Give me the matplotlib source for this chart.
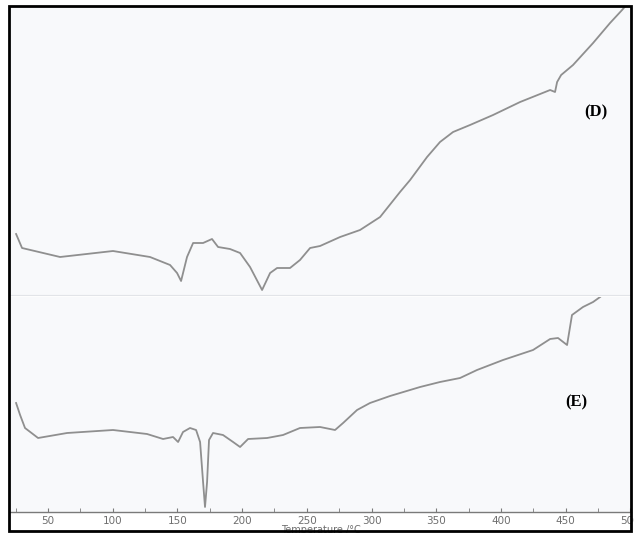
import numpy as np
import matplotlib.pyplot as plt
from matplotlib.patches import Rectangle
from matplotlib.ticker import MultipleLocator

# DSC thermograms, heat flow in arbitrary units (endo down)
temp_d = [25.3, 29.9, 59.3, 100.2, 128.8, 144.3, 149.7, 152.8, 157.4, 162.1,
          169.8, 176.7, 181.4, 190.6, 198.4, 206.1, 215.4, 221.6, 227.0, 237.0,
          244.7, 252.5, 260.2, 275.7, 291.1, 306.6, 322.0, 329.8, 342.9, 352.9,
          363.0, 376.1, 393.9, 414.8, 438.0, 441.8, 443.4, 446.5, 455.7, 471.2,
          484.3, 493.6, 498.2]
flow_d = [61, 47, 38, 44, 38, 30, 22, 14, 38, 52,
          52, 56, 48, 46, 42, 28, 5, 22, 27, 27,
          35, 47, 49, 58, 65, 78, 103, 115, 138, 153,
          163, 170, 180, 193, 205, 203, 213, 220, 230, 252,
          272, 285, 292]

temp_e = [25.3, 28.4, 32.2, 42.3, 64.7, 100.2, 126.5, 138.9, 146.6, 150.5,
          154.3, 159.7, 164.4, 167.5, 169.8, 171.3, 172.9, 174.4, 177.5, 185.2,
          193.0, 198.4, 204.6, 219.3, 231.6, 244.7, 260.2, 271.8, 278.0, 288.8,
          298.8, 314.3, 337.5, 352.9, 368.4, 381.5, 401.6, 424.8, 438.0, 444.1,
          451.1, 454.9, 463.4, 471.2, 476.6]
flow_e = [109, 97, 84, 74, 79, 82, 78, 73, 75, 70,
          80, 84, 82, 70, 30, 5, 30, 72, 79, 77,
          70, 65, 73, 74, 77, 84, 85, 82, 89, 102,
          109, 116, 125, 130, 134, 142, 152, 162, 173, 174,
          167, 197, 205, 210, 215]

x_ticks = [50, 100, 150, 200, 250, 300, 350, 400, 450, 500]

W, H = 634, 533
fig = plt.figure(figsize=(W / 100, H / 100), dpi=100)
fig.patch.set_facecolor('white')

left, right = 10 / W, 631 / W
ax_d = fig.add_axes([left, 1 - 295 / H, right - left, (295 - 6) / H])
ax_e = fig.add_axes([left, 1 - 512 / H, right - left, (512 - 297) / H])

line_kw = dict(color='#8f8f8f', lw=1.3, solid_joinstyle='round')
xlim = (20.6, 500.5)

ax_d.plot(temp_d, flow_d, **line_kw)
ax_d.set_xlim(*xlim)
ax_d.set_ylim(0, 289)
ax_d.set_xticks([])
ax_d.set_yticks([])
ax_d.set_facecolor('#f8f9fb')
for s in ax_d.spines.values():
    s.set_visible(False)
ax_d.spines['bottom'].set_visible(True)
ax_d.spines['bottom'].set_color('#e2e4e8')
ax_d.text(473, 183, '(D)', fontsize=12, fontweight='bold',
          family='Liberation Serif', ha='center', va='center')

ax_e.plot(temp_e, flow_e, **line_kw)
ax_e.set_xlim(*xlim)
ax_e.set_ylim(0, 215)
ax_e.set_yticks([])
ax_e.set_facecolor('#f8f9fb')
for s in ['top', 'left', 'right']:
    ax_e.spines[s].set_visible(False)
ax_e.spines['bottom'].set_color('#7a7a7a')
ax_e.spines['bottom'].set_linewidth(1.0)
ax_e.set_xticks(x_ticks)
ax_e.xaxis.set_minor_locator(MultipleLocator(25))
ax_e.tick_params(axis='x', which='both', direction='in', length=3,
                 color='#7a7a7a', labelsize=7.5, labelcolor='#6e6e6e', pad=3)
ax_e.set_xlabel('Temperature /°C', fontsize=7, color='#6e6e6e', labelpad=-1)
ax_e.text(458, 110, '(E)', fontsize=12, fontweight='bold',
          family='Liberation Serif', ha='center', va='center')

# outer frame
fig.add_artist(Rectangle((9 / W, 2 / H), 622 / W, (531 - 6) / H,
                         transform=fig.transFigure, fill=False,
                         edgecolor='black', lw=2.0, clip_on=False))

fig.savefig('out.png', dpi=100)
